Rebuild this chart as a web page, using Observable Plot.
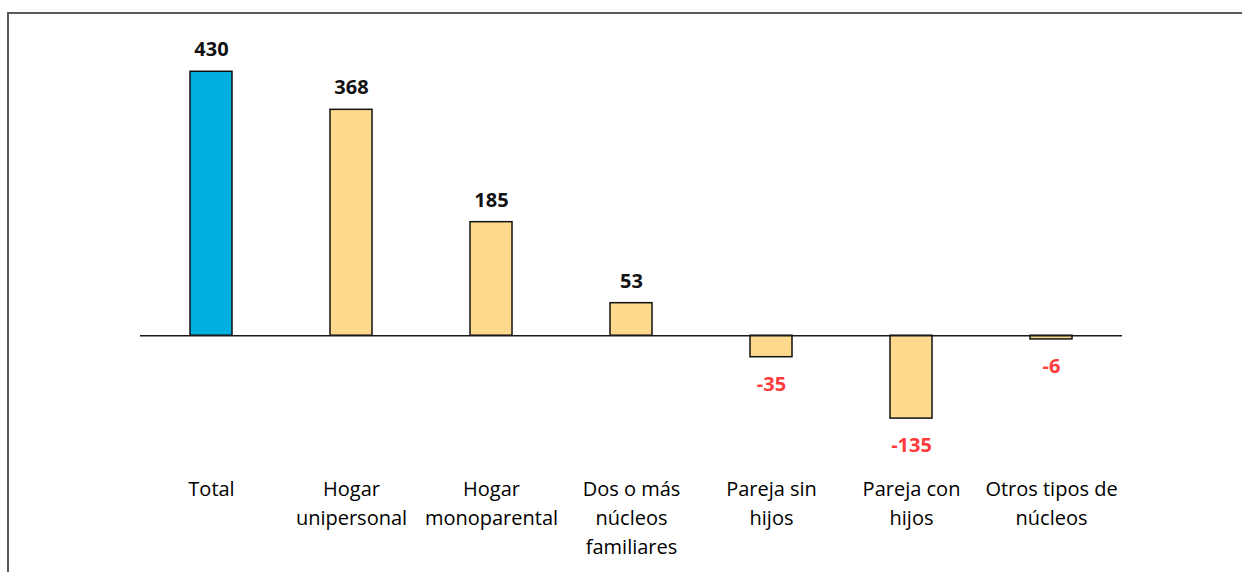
<!DOCTYPE html>
<html><head><meta charset="utf-8">
<script src="https://cdn.jsdelivr.net/npm/d3@7"></script>
<script src="https://cdn.jsdelivr.net/npm/@observablehq/plot@0.6"></script>
<style>
html,body{margin:0;padding:0;background:#fff;overflow:hidden}
#wrap{position:relative;width:1242px;height:572px;overflow:hidden}
#frame{position:absolute;left:7px;top:12px;width:1300px;height:600px;border-left:2px solid #5a5a5a;border-top:2px solid #5a5a5a}
#chart{position:absolute;left:0;top:0}
</style></head><body>
<div id="wrap"><div id="frame"></div><div id="chart"></div></div>
<script>
const categories = ["Total", "Hogar unipersonal", "Hogar monoparental", "Dos o más núcleos familiares", "Pareja sin hijos", "Pareja con hijos", "Otros tipos de núcleos"];
const tickLabels = ["Total", "Hogar\nunipersonal", "Hogar\nmonoparental", "Dos o más\nnúcleos\nfamiliares", "Pareja sin\nhijos", "Pareja con\nhijos", "Otros tipos de\nnúcleos"];
const values = [430, 368, 185, 53, -35, -135, -6];

const data = categories.map((c, i) => ({category: c, value: values[i]}));

const chart = Plot.plot({
  width: 1242,
  height: 572,
  marginLeft: 140,
  marginRight: 120,
  marginTop: 59,
  marginBottom: 114,
  style: {fontFamily: "'Open Sans', sans-serif", background: "transparent", color: "#111"},
  x: {domain: categories, paddingInner: 0.7, paddingOuter: 0.35, axis: null},
  y: {domain: [-200, 450], axis: null},
  marks: [
    Plot.barY(data, {x: "category", y: "value", fill: d => d.category === "Total" ? "#00aee0" : "#fdd98e", stroke: "#111", strokeWidth: 1.5}),
    Plot.ruleY([0], {stroke: "#1a1a1a", strokeWidth: 1.5}),
    Plot.text(data.filter(d => d.value >= 0), {x: "category", y: "value", text: d => String(d.value), dy: -22, fontWeight: "bold", fontSize: 20, fill: "#111"}),
    Plot.text(data.filter(d => d.value < 0), {x: "category", y: "value", text: d => String(d.value), dy: 27, fontWeight: "bold", fontSize: 20, fill: "#ff3b3b"}),
    Plot.axisX({tickSize: 0, tickPadding: 17, fontSize: 20, lineHeight: 1.45, fill: "#000", fontWeight: 500, label: null,
      tickFormat: d => tickLabels[categories.indexOf(d)]})
  ]
});
document.getElementById("chart").appendChild(chart);
</script>
</body></html>
